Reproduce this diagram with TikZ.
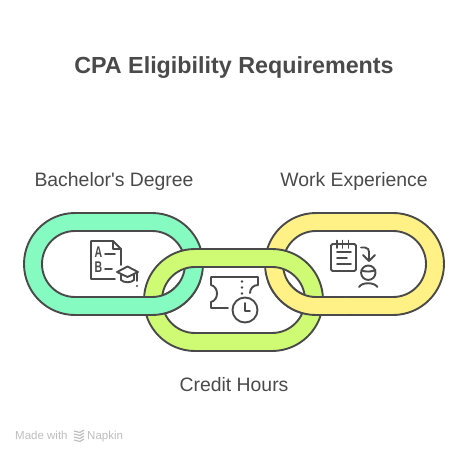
\documentclass[tikz,border=0pt]{standalone}
\usepackage{fontspec}
\setmainfont{Liberation Sans}
\usepackage{xcolor}
\usetikzlibrary{arrows.meta,positioning,calc}
\definecolor{softink}{RGB}{74,74,74}
\definecolor{softmint}{RGB}{133,251,193}
\definecolor{softlime}{RGB}{207,251,116}
\definecolor{softyellow}{RGB}{255,241,133}
\definecolor{softmark}{RGB}{190,190,190}
\tikzset{
  linkring/.style={draw=softink, line width=1.9pt, even odd rule},
  iconline/.style={draw=softink, line width=1.9pt, line cap=round, line join=round},
  linklabel/.style={text=softink, font=\fontsize{19.4}{23}\selectfont},
  marklabel/.style={text=softmark, anchor=base west, inner sep=0pt, font=\fontsize{11.5}{13}\selectfont},
  iconletter/.style={text=softink, inner sep=0pt, font=\fontsize{15.5}{15}\selectfont\bfseries, xscale=0.68, transform shape}
}
% #1 = left, #2 = top, #3 = fill
\newcommand{\chainlink}[3]{
  \path[linkring, fill=#3, rounded corners=51pt] (#1,#2) rectangle ++(179,102)
    [rounded corners=33pt] ($(#1,#2)+(18,18)$) rectangle ++(143,66);
}
\begin{document}
\begin{tikzpicture}[x=1pt, y=-1pt, >=Latex]
  \useasboundingbox (0,0) rectangle (468,454);
  \fill[white] (0,0) rectangle (468,454);

  \node[text=softink, font=\fontsize{23.3}{28}\selectfont\bfseries] (title) at (234,67.5) {CPA Eligibility Requirements};
  \node[linklabel] (degree) at (114,181) {Bachelor\textquotesingle s Degree};
  \node[linklabel] (work) at (354,181) {Work Experience};
  \node[linklabel] (hours) at (234,384.5) {Credit Hours};

  \chainlink{24}{213}{softmint}
  \chainlink{265}{213}{softyellow}
  \chainlink{144}{249}{softlime}
  \begin{scope}
    \clip (120,282) rectangle (215,325);
    \chainlink{24}{213}{softmint}
  \end{scope}
  \begin{scope}
    \clip (255,282) rectangle (345,325);
    \chainlink{265}{213}{softyellow}
  \end{scope}

  \draw[iconline] (115,279) -- (91,279) -- (91,241) -- (113,241) -- (121,249) -- (121,265);
  \draw[iconline] (113,241) -- (113,249) -- (121,249);
  \node[iconletter] (letterA) at (98.5,252) {A};
  \node[iconletter] (letterB) at (98.5,267) {B};
  \draw[iconline] (105,254) -- (115,254);
  \draw[iconline] (105,269) -- (112,269);
  \draw[iconline] (117,272) -- (127.5,266.5) -- (138,272) -- (127.5,277) -- cycle;
  \draw[iconline] (121,275) -- (121,280) .. controls (124,283) and (131,283) .. (134,280) -- (134,275);
  \draw[iconline] (137,273) -- (137,281);
  \fill[softink] (137,286) circle (1.1pt);

  \draw[iconline] (228,308) -- (211,308) -- (211,302) .. controls (219,300) and (219,287) .. (211,285) -- (211,277) -- (258,277) -- (258,285) .. controls (253,285) and (250,289) .. (250,293);
  \foreach \doty in {281.5,287.5,293.5}
    \fill[softink] (242,\doty) circle (1.3pt);
  \draw[iconline] (245,310) circle (12.5pt);
  \draw[iconline] (245,303) -- (245,311) -- (250,311);

  \draw[iconline, rounded corners=1.5pt] (331,244) rectangle (356,271);
  \foreach \ringx in {337,342.5,348.5}
    \draw[iconline] (\ringx,240.5) -- (\ringx,248);
  \draw[iconline] (337,252) -- (351,252);
  \draw[iconline] (337,258) -- (347,258);
  \draw[iconline] (337,264) -- (351,264);
  \draw[iconline] (361,247.5) -- (365,247.5) .. controls (368,247.5) and (369,250) .. (369,252) -- (369,261);
  \draw[iconline] (363,255) -- (369,261) -- (375,255);
  \draw[iconline] (368.3,272.7) circle (7.2pt);
  \draw[iconline] (361.5,270.5) .. controls (365,272) and (372,272) .. (375.5,270);
  \draw[iconline] (359,287) .. controls (362,282) and (374,282) .. (377.5,287);

  \node[marklabel] (made) at (15,439.5) {Made with};
  \foreach \marky in {431,434,437,440}
    \draw[softmark, line width=1.2pt] (74,\marky) -- (80,\marky+1.5) -- (84,\marky-1);
  \node[marklabel] (napkin) at (87,439.5) {Napkin};
\end{tikzpicture}
\end{document}
